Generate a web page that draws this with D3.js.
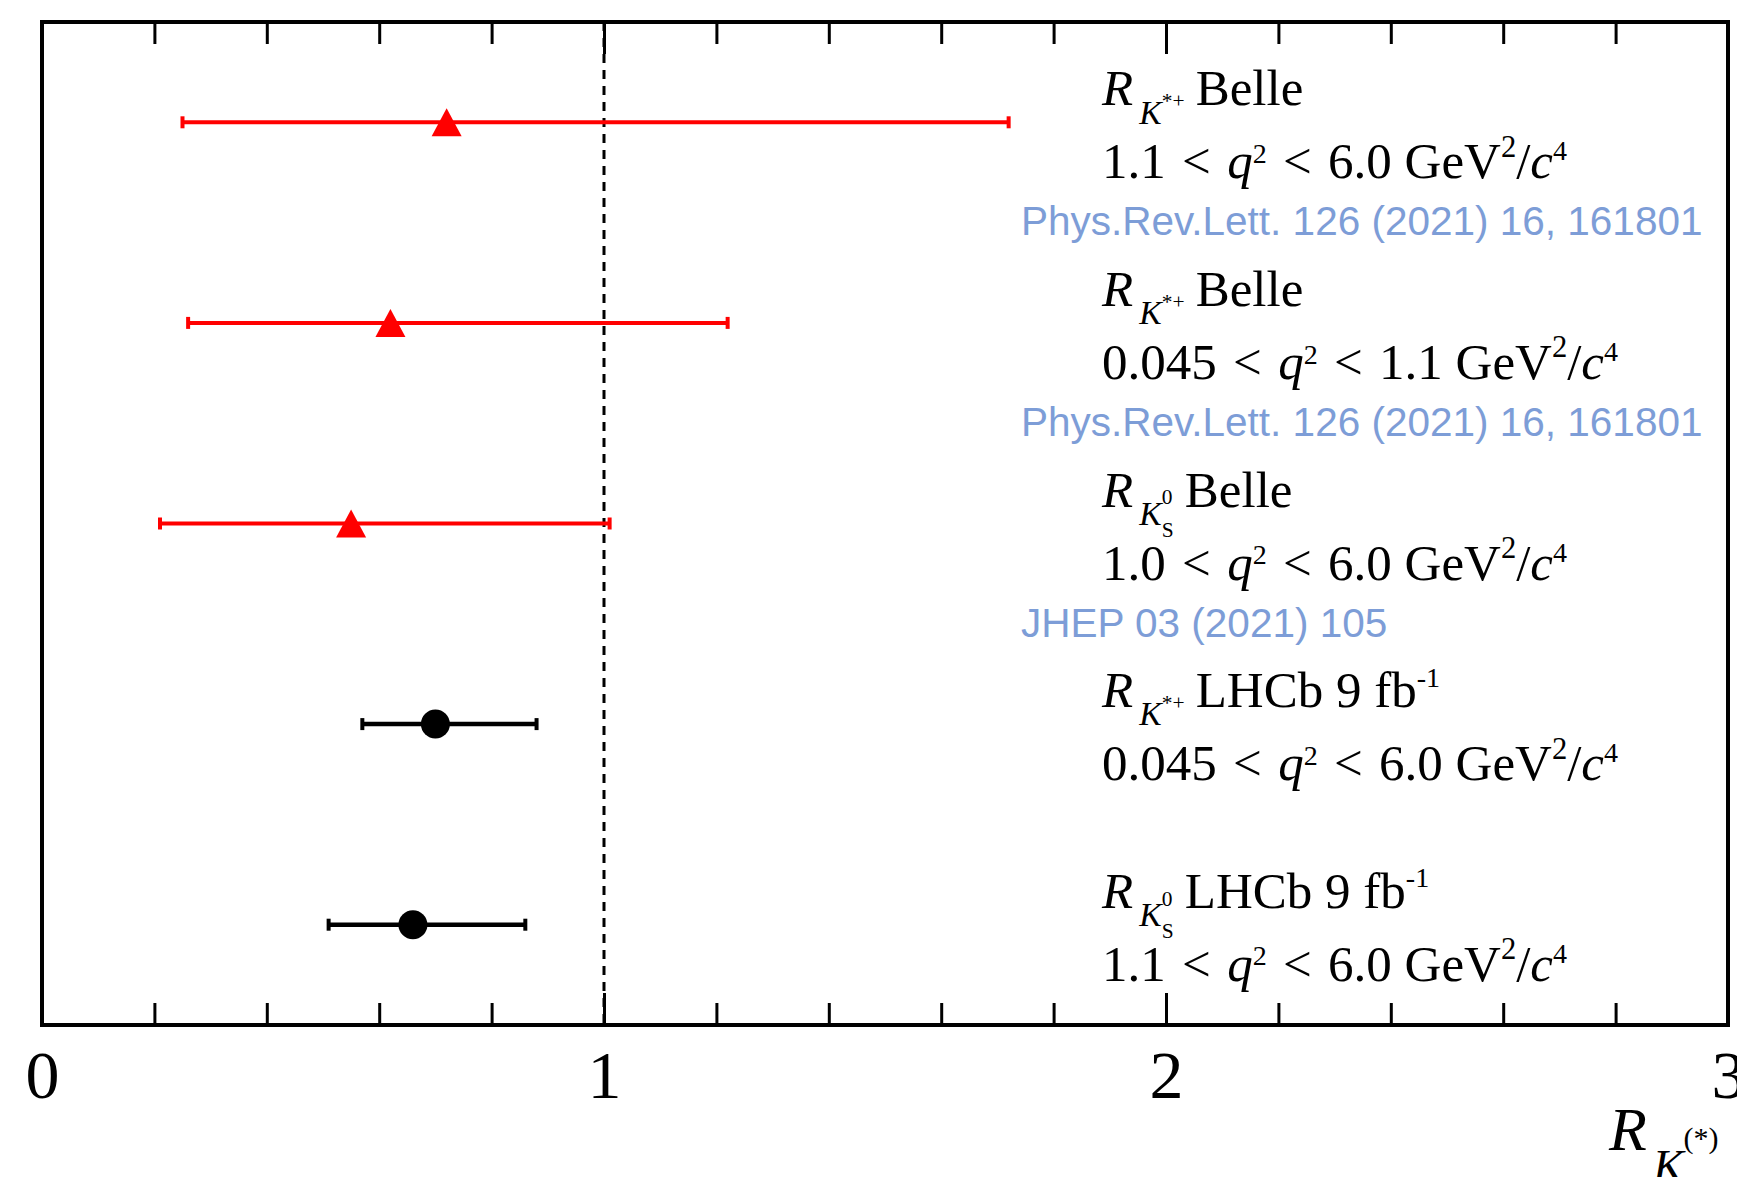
<!DOCTYPE html>
<html>
<head>
<meta charset="utf-8">
<script src="https://cdn.jsdelivr.net/npm/d3@7"></script>
<style>
  body { margin: 0; background: #fff; }
</style>
</head>
<body>
<svg id="chart" width="1737" height="1177"></svg>
<script>
// values, top row first
const kaons = ["K*+", "K*+", "KS0", "K*+", "KS0"];
const experiments = ["Belle", "Belle", "Belle", "LHCb", "LHCb"];
const lumis = ["", "", "", "9", "9"];
const q2Low = ["1.1", "0.045", "1.0", "0.045", "1.1"];
const q2High = ["6.0", "1.1", "6.0", "6.0", "6.0"];
const refs = [
    "Phys.Rev.Lett. 126 (2021) 16, 161801",
    "Phys.Rev.Lett. 126 (2021) 16, 161801",
    "JHEP 03 (2021) 105",
    "",
    ""
];
const central = [0.72, 0.62, 0.55, 0.70, 0.66];
const errMinus = [0.47, 0.36, 0.34, 0.13, 0.15];
const errPlus = [1.00, 0.60, 0.46, 0.18, 0.20];
const xLabels = ["0", "1", "2", "3"];

const svg = d3.select("#chart");

const frameL = 42, frameR = 1728, frameT = 22, frameB = 1025;
const serif = "'Liberation Serif', 'Times New Roman', serif";
const sans = "'Liberation Sans', Arial, sans-serif";

const x = d3.scaleLinear().domain([0, 3]).range([frameL, frameR]);
const y = d3.scalePoint()
    .domain(d3.range(central.length))
    .range([frameT, frameB])
    .padding(0.5);

const colour = d => experiments[d] === "Belle" ? "#ff0000" : "#000000";

// minor ticks every 0.2, labelled ones at integers
const minorTicks = d3.range(1, 15).map(i => i * 0.2).filter(v => Math.abs(v - Math.round(v)) > 1e-6);
const majorTicks = xLabels.map(Number);

function tickAxis(axis, vals, size) {
    return axis(x).tickValues(vals).tickSize(-size).tickFormat("");
}

const axes = svg.append("g");
axes.append("g").attr("transform", "translate(0," + frameB + ")")
    .call(tickAxis(d3.axisBottom, minorTicks, 22));
axes.append("g").attr("transform", "translate(0," + frameT + ")")
    .call(tickAxis(d3.axisTop, minorTicks, 22));
axes.append("g").attr("transform", "translate(0," + frameT + ")")
    .call(tickAxis(d3.axisTop, majorTicks, 32));
axes.append("g").attr("class", "labelled")
    .attr("transform", "translate(0," + frameB + ")")
    .call(d3.axisBottom(x).tickValues(majorTicks).tickSize(-32).tickPadding(25)
        .tickFormat((d, i) => xLabels[i]));
axes.selectAll(".domain").remove();
axes.selectAll(".tick line").attr("stroke", "#000").attr("stroke-width", 3);
axes.selectAll(".labelled text")
    .attr("font-family", serif)
    .attr("font-size", 68)
    .attr("fill", "#000");

// SM line at 1
svg.append("line")
    .attr("x1", x(1)).attr("x2", x(1))
    .attr("y1", frameT).attr("y2", frameB)
    .attr("stroke", "#000")
    .attr("stroke-width", 3)
    .attr("stroke-dasharray", "9,7");

// frame
svg.append("rect")
    .attr("x", frameL).attr("y", frameT)
    .attr("width", frameR - frameL).attr("height", frameB - frameT)
    .attr("fill", "none")
    .attr("stroke", "#000")
    .attr("stroke-width", 4);

// error bars
const rows = svg.append("g").selectAll("g")
    .data(d3.range(central.length))
    .join("g");

rows.append("line")
    .attr("x1", d => x(central[d] - errMinus[d]))
    .attr("x2", d => x(central[d] + errPlus[d]))
    .attr("y1", d => y(d)).attr("y2", d => y(d))
    .attr("stroke", colour)
    .attr("stroke-width", d => experiments[d] === "Belle" ? 4 : 4.5);

rows.selectAll(".cap")
    .data(d => [[d, central[d] - errMinus[d]], [d, central[d] + errPlus[d]]])
    .join("line")
    .attr("class", "cap")
    .attr("x1", e => x(e[1])).attr("x2", e => x(e[1]))
    .attr("y1", e => y(e[0]) - 6).attr("y2", e => y(e[0]) + 6)
    .attr("stroke", e => colour(e[0]))
    .attr("stroke-width", 4);

// markers: triangles for Belle, dots for LHCb
rows.filter(d => experiments[d] === "Belle")
    .append("path")
    .attr("d", "M0,-14L15,14L-15,14Z")
    .attr("transform", d => "translate(" + x(central[d]) + "," + y(d) + ")")
    .attr("fill", colour);

rows.filter(d => experiments[d] !== "Belle")
    .append("circle")
    .attr("cx", d => x(central[d]))
    .attr("cy", d => y(d))
    .attr("r", 14.5)
    .attr("fill", colour);

// write a run of text pieces with sub/superscripts
function rich(g, x0, y0, parts, fill) {
    let cx = x0, lastStart = x0;
    parts.forEach(p => {
        if (p.gap) { cx += p.gap; return; }
        const sx = p.stack ? lastStart : cx;
        const t = g.append("text")
            .attr("x", sx)
            .attr("y", y0 + (p.b || 0))
            .attr("font-family", p.font || serif)
            .attr("font-size", p.s)
            .attr("font-style", p.i ? "italic" : "normal")
            .attr("fill", fill)
            .text(p.t);
        const end = sx + t.node().getComputedTextLength();
        if (p.stack) {
            cx = Math.max(cx, end);
        } else {
            lastStart = sx;
            cx = end;
        }
    });
}

const F = 51;
const textX = 1102;

function kaonParts(k, f) {
    const parts = [
        { t: "R", s: f, i: true },
        { gap: 0.12 * f },
        { t: "K", s: 0.66 * f, i: true, b: 0.36 * f }
    ];
    if (k === "KS0") {
        parts.push({ t: "0", s: 0.42 * f, b: -0.04 * f });
        parts.push({ t: "S", s: 0.42 * f, b: 0.6 * f, stack: true });
    } else {
        parts.push({ t: "*+", s: 0.42 * f, b: 0.06 * f });
    }
    return parts;
}

const labels = svg.append("g");
d3.range(central.length).forEach(d => {
    const base = y(d) - 17;
    const head = kaonParts(kaons[d], F);
    head.push({ gap: 0.22 * F });
    head.push({ t: experiments[d] + (lumis[d] ? " " + lumis[d] + " fb" : ""), s: F });
    if (lumis[d]) head.push({ t: "-1", s: 0.55 * F, b: -0.4 * F });
    rich(labels, textX, base, head, "#000");

    const gap = 0.32 * F;
    rich(labels, textX, base + 73, [
        { t: q2Low[d], s: F },
        { gap: gap },
        { t: "<", s: F },
        { gap: gap },
        { t: "q", s: F, i: true },
        { t: "2", s: 0.55 * F, b: -0.3 * F },
        { gap: gap },
        { t: "<", s: F },
        { gap: gap },
        { t: q2High[d] + " GeV", s: F },
        { t: "2", s: 0.6 * F, b: -0.42 * F },
        { t: "/", s: F },
        { t: "c", s: F, i: true },
        { t: "4", s: 0.55 * F, b: -0.35 * F }
    ], "#000");

    if (refs[d]) {
        labels.append("text")
            .attr("x", 1021)
            .attr("y", base + 130)
            .attr("font-family", sans)
            .attr("font-size", 40.5)
            .attr("fill", "#7d9dd7")
            .text(refs[d]);
    }
});

// axis title
rich(svg.append("g"), 1609, 1150, [
    { t: "R", s: 62, i: true },
    { gap: 6 },
    { t: "K", s: 46, i: true, b: 32 },
    { t: "(*)", s: 30, b: -2 }
], "#000");
</script>
</body>
</html>
